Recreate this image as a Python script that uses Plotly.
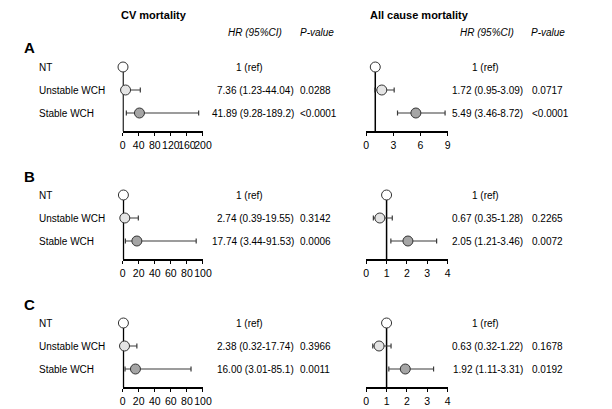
import plotly.graph_objects as go

W, H = 612, 409

rows = ["NT", "Unstable WCH", "Stable WCH"]
row_pos = [3, 2, 1]
panels = ["A", "B", "C"]

# CV mortality hazard ratios (HR, lower, upper)
cv_hr = [[1, 7.36, 41.89], [1, 2.74, 17.74], [1, 2.38, 16.00]]
cv_lo = [[1, 1.23, 9.28], [1, 0.39, 3.44], [1, 0.32, 3.01]]
cv_hi = [[1, 44.04, 189.2], [1, 19.55, 91.53], [1, 17.74, 85.1]]
cv_txt = [["1 (ref)", "7.36 (1.23-44.04)", "41.89 (9.28-189.2)"],
          ["1 (ref)", "2.74 (0.39-19.55)", "17.74 (3.44-91.53)"],
          ["1 (ref)", "2.38 (0.32-17.74)", "16.00 (3.01-85.1)"]]
cv_p = [["", "0.0288", "<0.0001"], ["", "0.3142", "0.0006"], ["", "0.3966", "0.0011"]]
cv_range = [[0, 200], [0, 100], [0, 100]]
cv_dtick = [40, 20, 20]

# all cause mortality
ac_hr = [[1, 1.72, 5.49], [1, 0.67, 2.05], [1, 0.63, 1.92]]
ac_lo = [[1, 0.95, 3.46], [1, 0.35, 1.21], [1, 0.32, 1.11]]
ac_hi = [[1, 3.09, 8.72], [1, 1.28, 3.46], [1, 1.22, 3.31]]
ac_txt = [["1 (ref)", "1.72 (0.95-3.09)", "5.49 (3.46-8.72)"],
          ["1 (ref)", "0.67 (0.35-1.28)", "2.05 (1.21-3.46)"],
          ["1 (ref)", "0.63 (0.32-1.22)", "1.92 (1.11-3.31)"]]
ac_p = [["", "0.0717", "<0.0001"], ["", "0.2265", "0.0072"], ["", "0.1678", "0.0192"]]
ac_range = [[0, 9], [0, 4], [0, 4]]
ac_dtick = [3, 1, 1]

fills = ["white", "#e4e4e4", "#a5a5a5"]
font = "Liberation Sans, Arial, sans-serif"

# pixel layout of each panel row: y of "Stable" row, px per unit
stable_px = [113, 241, 369]
unit_px = 23
ylo, yhi = 0.2, 3.4

fig = go.Figure()
layout = dict(width=W, height=H, margin=dict(l=0, r=0, t=0, b=0),
              plot_bgcolor="white", paper_bgcolor="white", showlegend=False,
              font=dict(family=font, size=10, color="black"))
annotations = []

def px(x):
    return x / W

def py(y):
    return 1 - y / H

def note(x, y, text, yref="paper", xanchor="left", size=10):
    annotations.append(dict(x=x, y=y, xref="paper", yref=yref, text=text,
                            showarrow=False, xanchor=xanchor, yanchor="middle",
                            font=dict(size=size)))

ax = 0
for i, letter in enumerate(panels):
    bottom = stable_px[i] + (1 - ylo) * unit_px
    top = stable_px[i] - (yhi - 1) * unit_px
    ydom = [py(bottom), py(top)]
    cols = [
        (cv_hr[i], cv_lo[i], cv_hi[i], cv_txt[i], cv_p[i], cv_range[i], cv_dtick[i], [122, 204], 299, 251, 301),
        (ac_hr[i], ac_lo[i], ac_hi[i], ac_txt[i], ac_p[i], ac_range[i], ac_dtick[i], [370.5, 453.5], 532, 492, 538),
    ]
    for hr, lo, hi, txt, pv, rng, dt, xdom, hr_right, ref_c, p_left in cols:
        ax += 1
        xa = "x" if ax == 1 else f"x{ax}"
        ya = "y" if ax == 1 else f"y{ax}"
        xkey = "xaxis" if ax == 1 else f"xaxis{ax}"
        ykey = "yaxis" if ax == 1 else f"yaxis{ax}"
        layout[xkey] = dict(domain=[px(xdom[0]), px(xdom[1])], range=rng, anchor=ya,
                            showgrid=False, zeroline=False, showline=True, linecolor="black",
                            linewidth=1.5, ticks="outside", ticklen=3, tickwidth=1.2,
                            tickcolor="black", dtick=dt, tick0=0, tickangle=0,
                            tickfont=dict(size=10.5, color="black", family=font))
        layout[ykey] = dict(domain=ydom, range=[ylo, yhi], anchor=xa, visible=False)
        # reference line at HR = 1
        fig.add_trace(go.Scatter(x=[1, 1], y=[ylo, row_pos[0]], mode="lines",
                                 line=dict(color="black", width=1.5),
                                 xaxis=xa, yaxis=ya, hoverinfo="skip"))
        fig.add_trace(go.Scatter(
            x=hr, y=row_pos, mode="markers", xaxis=xa, yaxis=ya, cliponaxis=False,
            marker=dict(size=10, color=fills, line=dict(color="#333333", width=1)),
            error_x=dict(type="data", symmetric=False,
                         array=[h - v for h, v in zip(hi, hr)],
                         arrayminus=[v - l for v, l in zip(hr, lo)],
                         color="#3a3a3a", thickness=1.2, width=2.5),
        ))
        for j in range(3):
            if txt[j] == "1 (ref)":
                note(px(ref_c), row_pos[j], txt[j], yref=ya, xanchor="center")
            else:
                note(px(hr_right), row_pos[j], txt[j], yref=ya, xanchor="right")
            if pv[j]:
                note(px(p_left), row_pos[j], pv[j], yref=ya)
        if xdom[0] < 300:
            for j in range(3):
                note(px(35), row_pos[j], rows[j], yref=ya)
    note(px(19), py(stable_px[i] - 65), f"<b>{letter}</b>", size=15)

# column titles and headers
for title, cx in [("CV mortality", 154), ("All cause mortality", 425)]:
    note(px(cx), py(15), f"<b>{title}</b>", xanchor="center", size=11)
for head, cx in [("HR (95%CI)", 257), ("P-value", 320), ("HR (95%CI)", 494), ("P-value", 556)]:
    note(px(cx), py(33), f"<i>{head}</i>", xanchor="center")

layout["annotations"] = annotations
fig.update_layout(**layout)
fig.write_html("out.html", config={"displayModeBar": False},
               post_script="document.body.style.margin='0';document.body.style.overflow='hidden';")
